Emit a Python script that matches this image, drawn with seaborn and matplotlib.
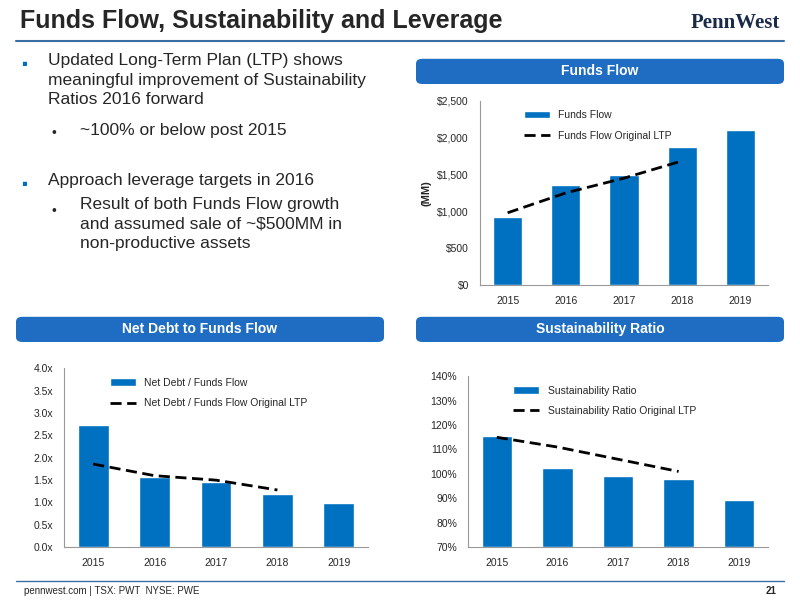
import numpy as np
import pandas as pd
import seaborn as sns
import matplotlib
matplotlib.use('Agg')
import matplotlib.pyplot as plt
from matplotlib.patches import FancyBboxPatch
from matplotlib.ticker import FuncFormatter

years = ['2015', '2016', '2017', '2018', '2019']
funds_flow = [925, 1360, 1495, 1875, 2110]
funds_flow_ltp = [980, 1250, 1450, 1685]
net_debt = [2.73, 1.56, 1.46, 1.18, 0.98]
net_debt_ltp = [1.86, 1.60, 1.50, 1.28]
sustain = [115.5, 102.3, 99.0, 97.8, 89.2]
sustain_ltp = [115.0, 111.0, 106.0, 101.0]

BLUE = '#0070C0'
HEAD = '#1F6DC2'

sns.set_style('white')
plt.rcParams['font.family'] = ['Liberation Sans', 'DejaVu Sans']

fig = plt.figure(figsize=(8, 6), dpi=100)

fig.text(0.025, 0.965, 'Funds Flow, Sustainability and Leverage', fontsize=18,
         fontweight='bold', va='center')
fig.text(0.975, 0.962, 'PennWest', fontsize=15, fontweight='bold', ha='right',
         va='center', family=['Liberation Serif'], color='#1a2a4a')
fig.add_artist(plt.Line2D([0.02, 0.98], [0.932, 0.932], color='#3a6ea5', lw=1.5))
fig.add_artist(plt.Line2D([0.02, 0.98], [0.032, 0.032], color='#3a6ea5', lw=1))
fig.text(0.03, 0.015, 'pennwest.com | TSX: PWT  NYSE: PWE', fontsize=7, va='center')
fig.text(0.97, 0.015, '21', fontsize=7, va='center', ha='right', fontweight='bold')

# bullet text
fig.text(0.027, 0.905, '\u25aa', color=BLUE, fontsize=12, va='top')
fig.text(0.06, 0.912, 'Updated Long-Term Plan (LTP) shows\nmeaningful improvement of Sustainability\nRatios 2016 forward',
         fontsize=12.5, va='top', linespacing=1.4)
fig.text(0.065, 0.79, '\u2022', fontsize=10, va='top')
fig.text(0.1, 0.795, '~100% or below post 2015', fontsize=12.5, va='top')
fig.text(0.027, 0.705, '\u25aa', color=BLUE, fontsize=12, va='top')
fig.text(0.06, 0.712, 'Approach leverage targets in 2016', fontsize=12.5, va='top')
fig.text(0.065, 0.66, '\u2022', fontsize=10, va='top')
fig.text(0.1, 0.672, 'Result of both Funds Flow growth\nand assumed sale of ~$500MM in\nnon-productive assets',
         fontsize=12.5, va='top', linespacing=1.4)


def header(x, y, w, h, text):
    p = FancyBboxPatch((x, y), w, h, boxstyle='round,pad=0,rounding_size=0.008',
                       transform=fig.transFigure, color=HEAD, lw=0)
    fig.add_artist(p)
    fig.text(x + w / 2, y + h / 2, text, color='white', fontsize=10,
             fontweight='bold', ha='center', va='center')


header(0.52, 0.86, 0.46, 0.042, 'Funds Flow')
header(0.02, 0.43, 0.46, 0.042, 'Net Debt to Funds Flow')
header(0.52, 0.43, 0.46, 0.042, 'Sustainability Ratio')


def panel(rect, vals, ltp, ylim, ticks, fmt, bar_label, line_label, ylabel=None):
    ax = fig.add_axes(rect)
    df = pd.DataFrame({'year': years, 'v': vals})
    sns.barplot(data=df, x='year', y='v', color=BLUE, width=0.5, ax=ax,
                label=bar_label, saturation=1)
    ax.plot(range(len(ltp)), ltp, color='black', ls=(0, (4, 2)), lw=2, label=line_label)
    ax.set_ylim(*ylim)
    ax.set_yticks(ticks)
    ax.yaxis.set_major_formatter(FuncFormatter(fmt))
    ax.set_xlabel('')
    ax.set_ylabel(ylabel or '', fontsize=8, fontweight='bold')
    ax.tick_params(labelsize=7.5, length=0, pad=8)
    for s in ['top', 'right']:
        ax.spines[s].set_visible(False)
    for s in ['left', 'bottom']:
        ax.spines[s].set_color('#999999')
    h, l = ax.get_legend_handles_labels()
    order = [l.index(bar_label), l.index(line_label)]
    ax.legend([h[i] for i in order], [l[i] for i in order], loc='upper left',
              bbox_to_anchor=(0.12, 1.0), frameon=False, fontsize=7.5,
              handlelength=2.5, labelspacing=1.0)
    return ax


panel([0.6, 0.525, 0.36, 0.307], funds_flow, funds_flow_ltp, (0, 2500),
      np.arange(0, 2501, 500), lambda v, p: '${:,.0f}'.format(v),
      'Funds Flow', 'Funds Flow Original LTP', '(MM)')
panel([0.08, 0.088, 0.38, 0.298], net_debt, net_debt_ltp, (0, 4),
      np.arange(0, 4.01, 0.5), lambda v, p: '{:.1f}x'.format(v),
      'Net Debt / Funds Flow', 'Net Debt / Funds Flow Original LTP')
ax3 = panel([0.585, 0.088, 0.375, 0.285], sustain, sustain_ltp, (70, 140),
            np.arange(70, 141, 10), lambda v, p: '{:.0f}%'.format(v),
            'Sustainability Ratio', 'Sustainability Ratio Original LTP')
# bars start at 70% baseline
for b in ax3.patches:
    h = b.get_height()
    b.set_y(70)
    b.set_height(h - 70)

fig.savefig('out.png', dpi=100)
